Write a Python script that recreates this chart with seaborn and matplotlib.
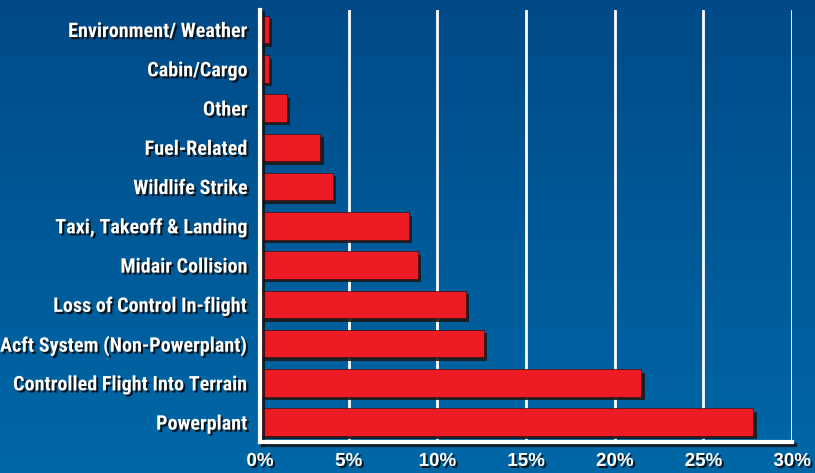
import numpy as np
import pandas as pd
import matplotlib
matplotlib.use("Agg")
import matplotlib.pyplot as plt
import matplotlib.patheffects as pe
from matplotlib.ticker import FixedLocator, PercentFormatter
from matplotlib import font_manager
import seaborn as sns

categories = [
    "Environment/ Weather",
    "Cabin/Cargo",
    "Other",
    "Fuel-Related",
    "Wildlife Strike",
    "Taxi, Takeoff & Landing",
    "Midair Collision",
    "Loss of Control In-flight",
    "Acft System (Non-Powerplant)",
    "Controlled Flight Into Terrain",
    "Powerplant",
]
shares = [0.5, 0.5, 1.5, 3.4, 4.1, 8.4, 8.9, 11.6, 12.6, 21.5, 27.8]
x_ticks = [0, 5, 10, 15, 20, 25, 30]

df = pd.DataFrame({"category": categories, "share": shares})

sns.set_theme(style="white")
installed = {f.name for f in font_manager.fontManager.ttflist}
narrow = [n for n in ["Liberation Sans Narrow", "Roboto Condensed", "Open Sans Condensed"] if n in installed]
label_family = narrow[:1] + ["Liberation Sans", "DejaVu Sans"]
plt.rcParams["font.family"] = ["Liberation Sans", "DejaVu Sans"]
plt.rcParams["font.weight"] = "bold"

fig = plt.figure(figsize=(8.15, 4.73), dpi=100)

# blue gradient backdrop
bg = fig.add_axes([0, 0, 1, 1], zorder=-10)
top = np.array([0, 74, 135]) / 255
bottom = np.array([0, 104, 168]) / 255
t = np.linspace(0, 1, 256)[:, None]
grad = top[None, :] * (1 - t) + bottom[None, :] * t
bg.imshow(grad[:, None, :], aspect="auto", extent=[0, 1, 0, 1])
bg.set_axis_off()

ax = fig.add_axes([0.319, 0.066, 0.653, 0.913])
ax.set_facecolor("none")

sns.barplot(data=df, x="share", y="category", orient="h", color="#ed1c24",
            saturation=1, width=0.7, edgecolor="#3a1010", linewidth=0.5,
            ax=ax, zorder=3)

shadow = [pe.SimplePatchShadow(offset=(2.5, -2.5), shadow_rgbFace="#1b1b1b", alpha=0.9), pe.Normal()]
for p in ax.patches:
    p.set_path_effects(shadow)

ax.set_xlim(0, 30)
ax.set_ylim(len(categories) - 0.5, -0.5)
ax.xaxis.set_major_locator(FixedLocator(x_ticks))
ax.xaxis.set_major_formatter(PercentFormatter(decimals=0))

for x in x_ticks[1:]:
    ax.axvline(x, color="white", lw=2, zorder=1)

for side in ["top", "right"]:
    ax.spines[side].set_visible(False)
spine_fx = [pe.SimpleLineShadow(offset=(2, -2), shadow_color="#111111", alpha=0.8), pe.Normal()]
for side in ["left", "bottom"]:
    ax.spines[side].set_color("white")
    ax.spines[side].set_linewidth(3)
    ax.spines[side].set_zorder(4)
    ax.spines[side].set_path_effects(spine_fx)

ax.set_yticks(np.arange(len(categories) + 1) - 0.5, minor=True)
ax.tick_params(axis="y", which="major", length=0, pad=9)
ax.tick_params(axis="y", which="minor", length=5, width=2.5, color="white", direction="out")
ax.tick_params(axis="x", which="major", length=5, width=2.5, color="white", direction="out", pad=3)

text_fx = [pe.withSimplePatchShadow(offset=(1.5, -1.5), shadow_rgbFace="#0a0a0a", alpha=0.85)]
for lbl in ax.get_yticklabels():
    lbl.set_color("white")
    lbl.set_family(label_family)
    lbl.set_fontsize(14.5 if narrow else 12.2)
    lbl.set_fontweight("bold")
    lbl.set_path_effects(text_fx)
for lbl in ax.get_xticklabels():
    lbl.set_color("white")
    lbl.set_fontsize(13.5)
    lbl.set_fontweight("bold")
    lbl.set_path_effects(text_fx)

ax.set_xlabel("")
ax.set_ylabel("")

fig.savefig("out.png", dpi=100)
